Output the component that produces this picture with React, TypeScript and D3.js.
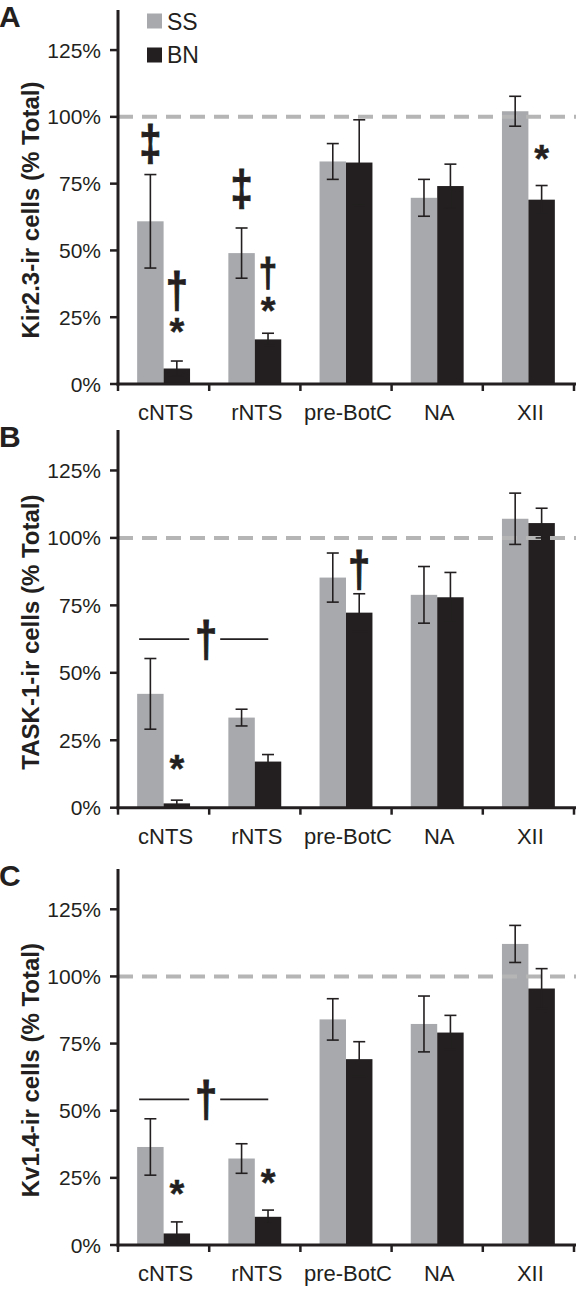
import React from "react";
import * as d3 from "d3";

const categories = ["cNTS", "rNTS", "pre-BotC", "NA", "XII"];
const seriesNames = ["SS", "BN"];
const tickValues = [0, 25, 50, 75, 100, 125];

// Panel A: Kir2.3
const kirSS = [60.9, 49.0, 83.3, 69.7, 102.1];
const kirSSErr = [17.5, 9.4, 6.7, 6.9, 5.6];
const kirBN = [5.8, 16.7, 82.9, 74.1, 69.0];
const kirBNErr = [2.8, 2.3, 16.0, 8.2, 5.3];

// Panel B: TASK-1
const taskSS = [42.2, 33.4, 85.3, 78.9, 107.1];
const taskSSErr = [13.1, 3.1, 9.1, 10.5, 9.5];
const taskBN = [1.6, 17.1, 72.3, 78.0, 105.5];
const taskBNErr = [1.2, 2.6, 7.0, 9.2, 5.5];

// Panel C: Kv1.4
const kvSS = [36.5, 32.2, 84.0, 82.3, 112.1];
const kvSSErr = [10.5, 5.5, 7.7, 10.4, 6.9];
const kvBN = [4.3, 10.5, 69.2, 79.1, 95.5];
const kvBNErr = [4.3, 2.5, 6.5, 6.4, 7.4];

type Ann = { sym: string; cat: string; s: string; v: number; size: number };

const kirAnn: Ann[] = [
  { sym: "‡", cat: "cNTS", s: "SS", v: 89.2, size: 40 },
  { sym: "†", cat: "cNTS", s: "BN", v: 34.3, size: 40 },
  { sym: "*", cat: "cNTS", s: "BN", v: 22.8, size: 38 },
  { sym: "‡", cat: "rNTS", s: "SS", v: 72.3, size: 40 },
  { sym: "†", cat: "rNTS", s: "BN", v: 40.8, size: 33 },
  { sym: "*", cat: "rNTS", s: "BN", v: 30.5, size: 38 },
  { sym: "*", cat: "XII", s: "BN", v: 87.6, size: 38 },
];
const taskAnn: Ann[] = [
  { sym: "*", cat: "cNTS", s: "BN", v: 17.7, size: 38 },
  { sym: "†", cat: "pre-BotC", s: "BN", v: 87.4, size: 40 },
];
const kvAnn: Ann[] = [
  { sym: "*", cat: "cNTS", s: "BN", v: 22.3, size: 38 },
  { sym: "*", cat: "rNTS", s: "BN", v: 26.4, size: 38 },
];

const FONT = "'Liberation Sans', Arial, Helvetica, sans-serif";
const GRAY = "#a7a9ac";
const BLACK = "#231f20";

function Symbol({ sym, cx, cy, size }: { sym: string; cx: number; cy: number; size: number }) {
  const isStar = sym === "*";
  const sy = isStar ? 1 : 1.25;
  const off = isStar ? 0.575 : 0.29;
  return (
    <text
      transform={`translate(${cx},${cy}) scale(1,${sy})`}
      y={off * size}
      textAnchor="middle"
      fontFamily={FONT}
      fontWeight="bold"
      fontSize={size}
      fill={BLACK}
      stroke={BLACK}
      strokeWidth={isStar ? 0.4 : 0.8}
    >
      {sym}
    </text>
  );
}

type PanelProps = {
  letter: string;
  title: string;
  top: number;
  bottom: number;
  ss: number[];
  ssErr: number[];
  bn: number[];
  bnErr: number[];
  ann: Ann[];
  bracket: number | null;
  legend: boolean;
};

function Panel(p: PanelProps) {
  const x = d3
    .scaleBand<string>()
    .domain(categories)
    .range([118, 574])
    .paddingInner(0.42)
    .paddingOuter(0.21);
  const inner = d3.scaleBand<string>().domain(seriesNames).range([0, x.bandwidth()]);
  const y = d3.scaleLinear().domain([0, 140]).range([p.bottom, p.top]);
  const step = x.step();
  const x0 = 118;
  const bw = inner.bandwidth();
  const seriesData: Record<string, { v: number[]; e: number[]; c: string }> = {
    SS: { v: p.ss, e: p.ssErr, c: GRAY },
    BN: { v: p.bn, e: p.bnErr, c: BLACK },
  };
  const bx = (cat: string, s: string) => (x(cat) as number) + (inner(s) as number);
  const y0 = y(0);

  return (
    <g>
      <text x={-1} y={p.top + 17} fontFamily={FONT} fontWeight="bold" fontSize={30} fill={BLACK}>
        {p.letter}
      </text>
      {/* y title */}
      <text
        transform={`translate(39,${(y(0) + y(125)) / 2 - 7}) rotate(-90)`}
        textAnchor="middle"
        fontFamily={FONT}
        fontWeight="bold"
        fontSize={24}
        fill={BLACK}
      >
        {p.title}
      </text>
      {/* bars */}
      {seriesNames.map((s) =>
        categories.map((cat, i) => (
          <rect
            key={s + cat}
            x={bx(cat, s)}
            y={y(seriesData[s].v[i])}
            width={bw}
            height={y0 - y(seriesData[s].v[i])}
            fill={seriesData[s].c}
          />
        ))
      )}
      {/* dashed 100% line */}
      <line
        x1={x0}
        x2={576}
        y1={y(100)}
        y2={y(100)}
        stroke="#b5b5b5"
        strokeWidth={4}
        strokeDasharray="15 9"
      />
      {/* error bars */}
      {seriesNames.map((s) =>
        categories.map((cat, i) => {
          const cx = bx(cat, s) + bw / 2;
          const v = seriesData[s].v[i];
          const e = seriesData[s].e[i];
          return (
            <g key={"e" + s + cat} stroke={BLACK} strokeWidth={1.6}>
              <line x1={cx} x2={cx} y1={y(v - e)} y2={y(v + e)} />
              <line x1={cx - 6} x2={cx + 6} y1={y(v + e)} y2={y(v + e)} />
              <line x1={cx - 6} x2={cx + 6} y1={y(v - e)} y2={y(v - e)} />
            </g>
          );
        })
      )}
      {/* axes */}
      <line x1={x0} x2={x0} y1={p.top} y2={y0 + 1.5} stroke={BLACK} strokeWidth={3} />
      <line x1={x0 - 1.5} x2={576} y1={y0} y2={y0} stroke={BLACK} strokeWidth={3} />
      {tickValues.map((t) => (
        <g key={"t" + t}>
          <line x1={x0 - 8} x2={x0} y1={y(t)} y2={y(t)} stroke={BLACK} strokeWidth={2.5} />
          <text
            x={101}
            y={y(t) + 7.5}
            textAnchor="end"
            fontFamily={FONT}
            fontSize={21}
            fill={BLACK}
          >
            {t + "%"}
          </text>
        </g>
      ))}
      {d3.range(categories.length + 1).map((i) => (
        <line
          key={"xt" + i}
          x1={x0 + i * step}
          x2={x0 + i * step}
          y1={y0}
          y2={y0 + 7}
          stroke={BLACK}
          strokeWidth={2.5}
        />
      ))}
      {categories.map((cat) => (
        <text
          key={"c" + cat}
          x={(x(cat) as number) + x.bandwidth() / 2 + 2}
          y={y0 + 36}
          textAnchor="middle"
          fontFamily={FONT}
          fontSize={22}
          fill={BLACK}
        >
          {cat}
        </text>
      ))}
      {/* annotations */}
      {p.ann.map((a, i) => (
        <Symbol key={"a" + i} sym={a.sym} cx={bx(a.cat, a.s) + bw / 2} cy={y(a.v)} size={a.size} />
      ))}
      {p.bracket !== null && (
        <g>
          <line
            x1={(x("cNTS") as number) + 2}
            x2={x0 + step - 20}
            y1={y(p.bracket)}
            y2={y(p.bracket)}
            stroke={BLACK}
            strokeWidth={1.7}
          />
          <line
            x1={x0 + step + 11}
            x2={(x("rNTS") as number) + x.bandwidth() - 13}
            y1={y(p.bracket)}
            y2={y(p.bracket)}
            stroke={BLACK}
            strokeWidth={1.7}
          />
          <Symbol sym="†" cx={x0 + step - 3} cy={y(p.bracket) + 2} size={40} />
        </g>
      )}
      {p.legend && (
        <g>
          {seriesNames.map((s, i) => (
            <g key={"l" + s}>
              <rect x={147} y={13.5 + i * 34} width={15} height={15} fill={seriesData[s].c} />
              <text x={167} y={29.5 + i * 33} fontFamily={FONT} fontSize={23} fill={BLACK}>
                {s}
              </text>
            </g>
          ))}
        </g>
      )}
    </g>
  );
}

export default function App() {
  return (
    <svg
      width={576}
      height={1289}
      style={{ position: "absolute", left: 0, top: 0, background: "#fff" }}
    >
      <rect width={576} height={1289} fill="#fff" />
      <Panel
        letter="A"
        title="Kir2.3-ir cells (% Total)"
        top={10}
        bottom={384}
        ss={kirSS}
        ssErr={kirSSErr}
        bn={kirBN}
        bnErr={kirBNErr}
        ann={kirAnn}
        bracket={null}
        legend={true}
      />
      <Panel
        letter="B"
        title="TASK-1-ir cells (% Total)"
        top={430}
        bottom={807.7}
        ss={taskSS}
        ssErr={taskSSErr}
        bn={taskBN}
        bnErr={taskBNErr}
        ann={taskAnn}
        bracket={62.5}
        legend={false}
      />
      <Panel
        letter="C"
        title="Kv1.4-ir cells (% Total)"
        top={869}
        bottom={1245}
        ss={kvSS}
        ssErr={kvSSErr}
        bn={kvBN}
        bnErr={kvBNErr}
        ann={kvAnn}
        bracket={54.2}
        legend={false}
      />
    </svg>
  );
}
